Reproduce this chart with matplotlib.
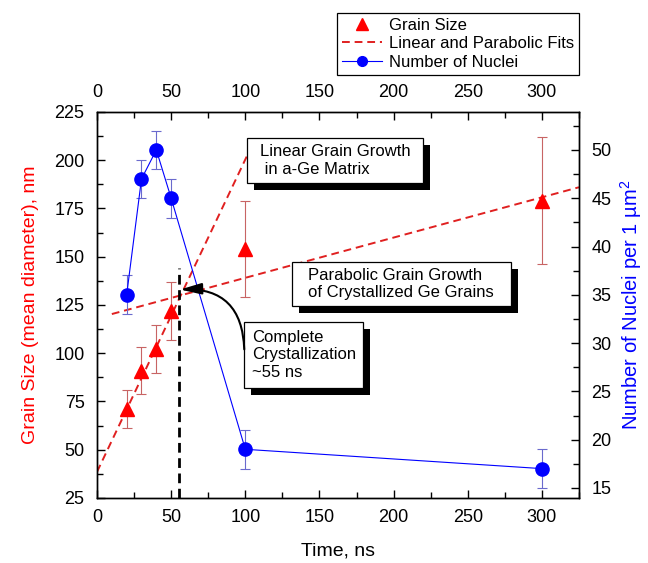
import matplotlib
matplotlib.use("Agg")
import matplotlib.pyplot as plt
import matplotlib.patheffects as pe
from matplotlib.lines import Line2D
from matplotlib.patches import Rectangle
from matplotlib.ticker import MultipleLocator

# measured points
time_ns = [20, 30, 40, 50, 100, 300]
grain_size = [71, 91, 102, 122, 154, 179]
grain_err = [10, 12, 12.5, 15, 25, 33]
nuclei = [35, 47, 50, 45, 19, 17]
nuclei_err = [2, 2, 2, 2, 2, 2]

# fit lines (end points)
linear_fit_t = [0, 105]
linear_fit_d = [38.5, 208.5]
parabolic_fit_t = [10, 325]
parabolic_fit_d = [120.3, 186.0]

crystallization_t = 55
crystallization_top = 144
crystallization_d = 133

RED = "#ff0000"
RED_FIT = "#e02020"
RED_ERR = "#c86464"
BLUE = "#0000ff"
BLUE_ERR = "#6a6acd"

plt.rcParams["font.family"] = ["Liberation Sans", "DejaVu Sans"]
plt.rcParams["mathtext.fontset"] = "custom"
plt.rcParams["mathtext.rm"] = "Liberation Sans"
plt.rcParams["mathtext.it"] = "Liberation Sans:italic"

fig = plt.figure(figsize=(6.48, 5.63), dpi=100)
ax = fig.add_axes([0.1497, 0.1155, 0.7438, 0.6856])
ax2 = ax.twinx()

# grain size (left axis)
ax.errorbar(time_ns, grain_size, yerr=grain_err, fmt="none", ecolor=RED_ERR,
            elinewidth=0.8, capsize=3.5, capthick=0.8, zorder=2)
ax.plot(time_ns, grain_size, "^", color=RED, ms=10, mec=RED, zorder=3)
ax.plot(linear_fit_t, linear_fit_d, color=RED_FIT, lw=1.4, dashes=(4, 2.5), zorder=2)
ax.plot(parabolic_fit_t, parabolic_fit_d, color=RED_FIT, lw=1.4, dashes=(4, 2.5), zorder=2)
ax.plot([crystallization_t, crystallization_t], [25, crystallization_top], color="black",
        lw=2, dashes=(3.5, 2), zorder=2)

# nuclei (right axis)
ax2.errorbar(time_ns, nuclei, yerr=nuclei_err, fmt="none", ecolor=BLUE_ERR,
             elinewidth=0.8, capsize=3.5, capthick=0.8, zorder=2)
ax2.plot(time_ns, nuclei, "-o", color=BLUE, lw=0.8, ms=9.5, zorder=3)

ax.set_xlim(0, 325)
ax.set_ylim(25, 225)
ax2.set_ylim(13.96, 53.93)

ax.xaxis.set_major_locator(MultipleLocator(50))
ax.xaxis.set_minor_locator(MultipleLocator(25))
ax.yaxis.set_major_locator(MultipleLocator(25))
ax.yaxis.set_minor_locator(MultipleLocator(12.5))
ax2.yaxis.set_major_locator(MultipleLocator(5))
ax2.yaxis.set_minor_locator(MultipleLocator(2.5))

ax.tick_params(axis="x", which="both", direction="in", top=True, labeltop=True,
               labelsize=13, pad=8)
ax.tick_params(axis="y", which="both", direction="in", labelsize=13, pad=9)
ax2.tick_params(axis="y", which="both", direction="in", labelsize=13, pad=9)
for a in (ax, ax2):
    a.tick_params(which="major", length=6, width=1)
    a.tick_params(which="minor", length=4, width=1)
    for s in a.spines.values():
        s.set_linewidth(1.0)

ax.set_xlabel("Time, ns", fontsize=14, labelpad=12)
ax.set_ylabel("Grain Size (mean diameter), nm", fontsize=14, color=RED, labelpad=11)
ax2.set_ylabel("Number of Nuclei per 1 µm$^{2}$", fontsize=14.5, color=BLUE, labelpad=5)

# annotation boxes with drop shadows
boxes = [
    dict(rect=(101.4, 188.2, 118.2, 23.3), xy=(110, 199.9),
         text="Linear Grain Growth\n in a-Ge Matrix"),
    dict(rect=(131.8, 124.5, 147.3, 22.8), xy=(142.6, 135.9),
         text="Parabolic Grain Growth\nof Crystallized Ge Grains"),
    dict(rect=(99.3, 82.0, 79.8, 34.2), xy=(104.7, 99.1),
         text="Complete\nCrystallization\n~55 ns"),
]
for b in boxes:
    x0, y0, w, h = b["rect"]
    r = Rectangle((x0, y0), w, h, transform=ax.transData, facecolor="white",
                  edgecolor="black", lw=0.9, zorder=5)
    r.set_path_effects([pe.SimplePatchShadow(offset=(5, -5), shadow_rgbFace="black", alpha=1.0),
                        pe.Normal()])
    ax2.add_patch(r)
    ax2.text(b["xy"][0], b["xy"][1], b["text"], transform=ax.transData, ha="left",
             va="center", fontsize=12, linespacing=1.2, zorder=6)

ax2.annotate("", xy=(56, crystallization_d), xycoords=ax.transData,
             xytext=(99.3, 102), textcoords=ax.transData,
             arrowprops=dict(arrowstyle="-|>,head_length=0.65,head_width=0.17",
                             mutation_scale=20, color="black", lw=1.5,
                             shrinkA=0, shrinkB=0, connectionstyle="arc3,rad=0.5"),
             zorder=6)

handles = [
    Line2D([], [], ls="none", marker="^", color=RED, ms=8),
    Line2D([], [], color=RED_FIT, lw=1.4, dashes=(4, 2.5)),
    Line2D([], [], color=BLUE, lw=0.8, marker="o", ms=7),
]
labels = ["Grain Size", "Linear and Parabolic Fits", "Number of Nuclei"]
leg = ax2.legend(handles, labels, loc="upper right", bbox_to_anchor=(1.0, 1.2565),
                 borderaxespad=0, fontsize=12, frameon=True, fancybox=False,
                 edgecolor="black", framealpha=1, handlelength=2.4, handletextpad=0.4,
                 labelspacing=0.2, borderpad=0.3, numpoints=1)
leg.get_frame().set_linewidth(0.9)

fig.savefig("out.png", dpi=100)
